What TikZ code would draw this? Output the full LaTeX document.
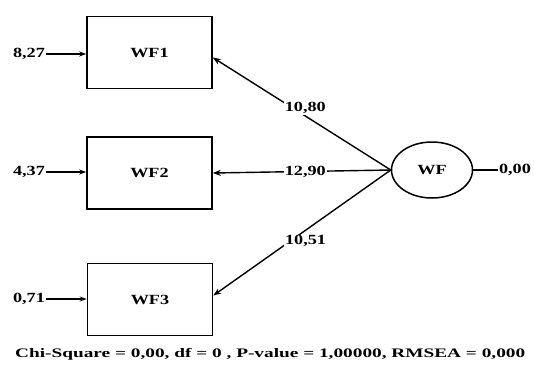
\documentclass[tikz,border=0pt]{standalone}
\usepackage{fontspec}
\usepackage{graphicx}
\setmainfont{Liberation Serif}
\usetikzlibrary{arrows.meta,shapes.geometric}
% slightly widened bold lettering
\newcommand{\wtxt}[1]{\scalebox{1.3}[1]{#1}}

\begin{document}
\begin{tikzpicture}[x=1pt,y=-1pt,
  obs/.style={draw, line width=1.6pt, minimum width=125pt, minimum height=72pt,
              inner sep=0pt, font=\fontsize{14}{16}\selectfont\bfseries},
  lat/.style={draw, ellipse, line width=1.5pt, minimum width=81pt, minimum height=56pt,
              inner sep=0pt, font=\fontsize{14}{16}\selectfont\bfseries},
  err/.style={inner sep=1pt, font=\fontsize{14}{16}\selectfont\bfseries},
  lbl/.style={fill=white, inner sep=1pt, font=\fontsize{14}{16}\selectfont\bfseries},
  load/.style={line width=1.4pt, -{Stealth[length=8pt,width=6pt]}},
  errarrow/.style={line width=1.4pt, -{Stealth[length=7pt,width=5pt]}},
]
\useasboundingbox (0,0) rectangle (534,365);

% indicators
\node[obs] (wf1) at (149.5,52.5) {\wtxt{WF1}};
\node[obs] (wf2) at (149.5,173) {\wtxt{WF2}};
\node[obs] (wf3) at (150,299.5) {\wtxt{WF3}};

% latent factor
\node[lat] (wf) at (432,170) {\wtxt{WF}};
\coordinate (hub) at (wf.west);

% error variances
\node[err] (e1) at (29,54) {\wtxt{8,27}};
\node[err] (e2) at (29,172) {\wtxt{4,37}};
\node[err] (e3) at (29,299) {\wtxt{0,71}};
\node[err] (e4) at (515,170) {\wtxt{0,00}};

\draw[errarrow] (e1.east) -- (wf1.west |- e1.east);
\draw[errarrow] (e2.east) -- (wf2.west |- e2.east);
\draw[errarrow] (e3.east) -- (wf3.west |- e3.east);
\draw[line width=1.4pt] (wf.east) -- (e4.west);

% loadings
\draw[load] (hub) -- node[lbl, pos=0.48, yshift=8pt] {\wtxt{10,80}} ([yshift=-5pt]wf1.east);
\draw[load] (hub) -- node[lbl, pos=0.48] {\wtxt{12,90}} (wf2.east);
\draw[load] (hub) -- node[lbl, pos=0.48, yshift=-11pt] {\wtxt{10,51}} ([yshift=4pt]wf3.east);

% fit statistics
\node[anchor=west, inner sep=0pt, font=\fontsize{13}{15}\selectfont\bfseries] (fit) at (15,354)
  {\resizebox{510pt}{\height}{Chi-Square = 0,00, df = 0 , P-value = 1,00000, RMSEA = 0,000}};
\end{tikzpicture}
\end{document}
